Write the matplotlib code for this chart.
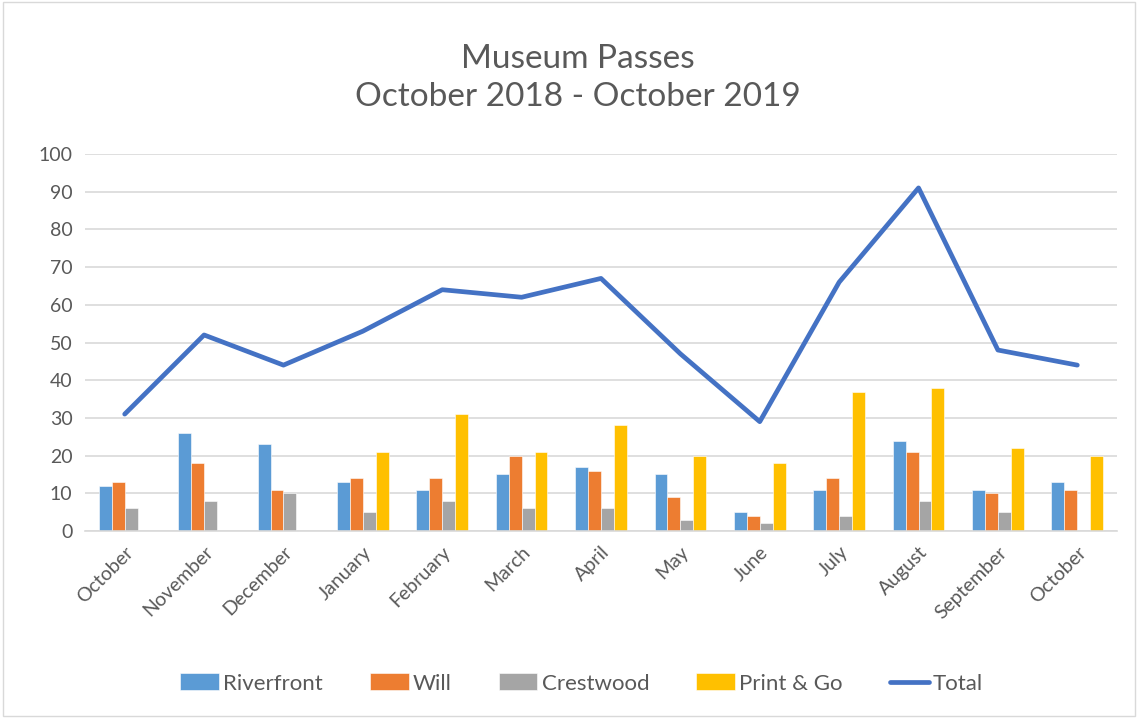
"""
Museum passes by branch, Oct 2018 - Oct 2019
"""
import numpy as np
import matplotlib.pyplot as plt

plt.rcParams['font.family'] = ['Lato', 'DejaVu Sans']

months = ["October", "November", "December", "January", "February", "March",
          "April", "May", "June", "July", "August", "September", "October"]
riverfront = [12, 26, 23, 13, 11, 15, 17, 15, 5, 11, 24, 11, 13]
will = [13, 18, 11, 14, 14, 20, 16, 9, 4, 14, 21, 10, 11]
crestwood = [6, 8, 10, 5, 8, 6, 6, 3, 2, 4, 8, 5, 0]
print_go = [0, 0, 0, 21, 31, 21, 28, 20, 18, 37, 38, 22, 20]
total = [31, 52, 44, 53, 64, 62, 67, 47, 29, 66, 91, 48, 44]

text_col = "#595959"
fig = plt.figure(figsize=(11.38, 7.18), dpi=100)
ax = fig.add_axes([85 / 1138, 1 - 531 / 718, 1032 / 1138, 377 / 718])

x = np.arange(len(months))
w = 0.163
series = [(riverfront, "Riverfront", "#5B9BD5"),
          (will, "Will", "#ED7D31"),
          (crestwood, "Crestwood", "#A5A5A5"),
          (print_go, "Print & Go", "#FFC000")]
handles = []
for i, (vals, name, col) in enumerate(series):
    b = ax.bar(x + (i - 1.5) * w, vals, w, color=col, label=name, zorder=2,
               edgecolor="white", linewidth=0.4)
    handles.append(b)

ln, = ax.plot(x, total, color="#4472C4", linewidth=3.4, label="Total", zorder=3,
              solid_joinstyle="round", solid_capstyle="round")
handles.append(ln)

ax.set_xlim(-0.5, len(months) - 0.5)
ax.set_ylim(0, 100)
ax.set_yticks(range(0, 101, 10))
ax.yaxis.grid(True, color="#d9d9d9", linewidth=1.2, zorder=0)
ax.set_axisbelow(True)
for s in ["top", "right", "left"]:
    ax.spines[s].set_visible(False)
ax.spines["bottom"].set_color("#d9d9d9")
ax.spines["bottom"].set_linewidth(1.2)
ax.tick_params(length=0, labelsize=14, colors=text_col, pad=9)
ax.set_xticks(x)
ax.set_xticklabels(months, rotation=45, ha="right", rotation_mode="anchor")

fig.text(0.508, 0.892, "Museum Passes\nOctober 2018 - October 2019",
         ha="center", va="center", fontsize=24, color=text_col, linespacing=1.33)

leg = fig.legend(handles=handles, loc="center", bbox_to_anchor=(0.511, 0.048), ncol=5,
                 frameon=False, fontsize=16, handlelength=1.75,
                 handleheight=0.8, columnspacing=2.1, handletextpad=0.2)
for t in leg.get_texts():
    t.set_color(text_col)

fig.patches.append(plt.Rectangle((0.003, 0.003), 0.994, 0.994, transform=fig.transFigure,
                                 fill=False, edgecolor="#d9d9d9", linewidth=1))

fig.savefig("out.png", dpi=100)
